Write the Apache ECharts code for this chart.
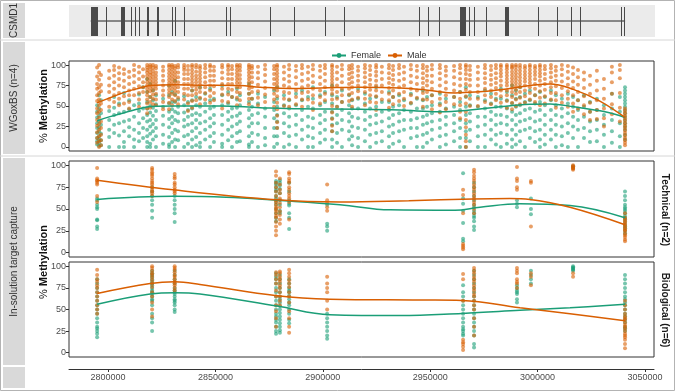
<!DOCTYPE html>
<html>
<head>
<meta charset="utf-8">
<script src="https://cdn.jsdelivr.net/npm/echarts@6/dist/echarts.min.js"></script>
<style>
  html, body { margin: 0; padding: 0; background: #fff; }
  #chart { width: 675px; height: 391px; }
</style>
</head>
<body>
<div id="chart"></div>
<script>
// genomic window and ticks
var X_MIN = 2781800, X_MAX = 3054200;
var xTicks = [2800000, 2850000, 2900000, 2950000, 3000000, 3050000];
var yTicks = [0, 25, 50, 75, 100];

// CSMD1 gene model: exons as [start, end]
var geneSpan = [2791900, 3040300];
var exons = [
  [2791900, 2795500], [2799100, 2799400], [2805900, 2807900], [2810700, 2811000],
  [2812600, 2812900], [2814300, 2814600], [2818000, 2819200], [2822600, 2823600],
  [2829800, 2830100], [2831100, 2831400], [2835400, 2835700], [2855000, 2855300],
  [2856700, 2857000], [2875400, 2875700], [2886300, 2886600], [2900600, 2900900],
  [2909600, 2909900], [2944300, 2944600], [2948700, 2949000], [2953800, 2954100],
  [2963500, 2966200], [2967900, 2968200], [2969900, 2970200], [2975500, 2975800],
  [2984300, 2986500], [2999700, 3000000], [3008500, 3008800], [3015100, 3015400],
  [3019400, 3019700], [3038300, 3038600], [3040000, 3040300]
];

// WGoxBS CpG positions and % methylation per position
var wgPos = [
  2794900, 2795800, 2796700, 2800500, 2802800, 2805100, 2807400, 2809800, 2812100, 2814400,
  2816300, 2818200, 2819600, 2820900, 2822300, 2825600, 2828400, 2829800, 2831200, 2832600,
  2835400, 2837200, 2839100, 2841000, 2842800, 2845200, 2847500, 2849300, 2853100, 2855900,
  2857700, 2860000, 2861400, 2865600, 2867000, 2869800, 2873100, 2877300, 2878700, 2881900,
  2884300, 2887500, 2890300, 2893100, 2895400, 2898700, 2901000, 2904300, 2906600, 2908900,
  2912200, 2913600, 2916400, 2919600, 2922000, 2924800, 2927500, 2930800, 2932700, 2935500,
  2937800, 2941000, 2943800, 2946600, 2948500, 2950800, 2954500, 2957300, 2961100, 2963900,
  2966600, 2968500, 2972200, 2975500, 2978300, 2980600, 2982900, 2985700, 2988100, 2989900,
  2991800, 2994100, 2996400, 2998800, 3001100, 3003400, 3006200, 3008500, 3011300, 3014100,
  3016500, 3018800, 3021600, 3024400, 3027600, 3030900, 3034600, 3038300, 3040700
];
var wgFemale = [
  [51, 43, 36, 29, 23, 17, 11, 7, 3], [63, 47, 38, 31, 24, 19, 13, 9, 5, 1], [57, 41, 27, 16, 8, 2],
  [44, 33, 21, 12, 0], [61, 48, 39, 27, 17], [53, 41, 29, 14, 0], [66, 43, 31, 19, 6, 0],
  [57, 46, 33, 24, 13], [51, 37, 21, 9, 0], [64, 53, 44, 29, 17, 7],
  [73, 47, 35, 23, 11], [83, 67, 55, 47, 39, 31, 21, 13, 6, 0], [77, 61, 50, 42, 33, 25, 16, 4, 0],
  [69, 57, 48, 38, 28, 19, 9], [63, 52, 44, 33, 23, 13, 0], [59, 49, 38, 27, 15, 4],
  [75, 63, 53, 43, 34, 24, 12, 3, 0], [67, 55, 46, 37, 29, 17, 6], [81, 64, 55, 43, 33, 21, 9, 0],
  [58, 49, 41, 31, 19, 8],
  [62, 51, 42, 33, 25, 13, 0], [55, 45, 37, 27, 15, 4], [69, 57, 47, 39, 29, 19, 9, 0],
  [61, 51, 41, 33, 23, 12, 2], [73, 59, 49, 39, 29, 17, 5, 0], [65, 53, 43, 31, 21, 9],
  [71, 57, 47, 35, 25, 13, 0], [59, 49, 39, 29, 17, 6], [75, 63, 51, 39, 27, 15, 4, 0],
  [67, 53, 43, 33, 21, 8],
  [61, 47, 37, 25, 13, 0], [71, 58, 48, 38, 28, 17, 6], [63, 51, 41, 31, 19, 7],
  [77, 65, 55, 45, 35, 25, 13, 3, 0], [59, 49, 39, 29, 17, 6], [65, 53, 41, 29, 15, 0],
  [61, 47, 37, 23, 11, 2], [69, 55, 45, 35, 23, 13, 0], [73, 59, 49, 39, 31, 23, 13, 4],
  [63, 51, 41, 29, 17, 0],
  [57, 47, 37, 25, 13, 3], [65, 51, 39, 27, 15, 0], [69, 57, 45, 33, 21, 9], [61, 49, 37, 25, 13, 0],
  [73, 59, 47, 35, 23, 11, 0], [63, 51, 39, 29, 17, 5], [67, 55, 43, 33, 21, 9],
  [75, 63, 53, 43, 35, 27, 19, 9, 0], [61, 49, 39, 29, 17, 5], [69, 55, 45, 33, 21, 0],
  [63, 51, 41, 31, 19, 9], [57, 47, 37, 25, 13, 2], [71, 59, 47, 35, 23, 11, 0],
  [65, 53, 43, 33, 21, 7], [59, 47, 37, 27, 15, 0], [73, 61, 49, 39, 29, 17, 5], [55, 43, 31, 19, 7],
  [67, 55, 45, 35, 25, 13, 0], [61, 49, 39, 27, 17, 4], [63, 51, 41, 31, 19, 7],
  [57, 45, 33, 21, 0], [65, 53, 43, 33, 23, 11], [59, 47, 35, 23, 13, 0],
  [69, 57, 47, 37, 27, 15, 0], [61, 49, 39, 29, 17, 5], [63, 51, 41, 31, 21, 9],
  [65, 53, 43, 33, 23, 13, 0], [59, 47, 37, 27, 15, 3], [61, 49, 39, 29, 19, 7],
  [67, 55, 45, 33, 23, 11, 0],
  [73, 61, 49, 39, 29, 19, 11, 0], [63, 51, 41, 31, 21, 7], [61, 49, 37, 25, 13, 0],
  [69, 57, 47, 37, 27, 15, 0], [65, 53, 43, 33, 21, 9], [59, 49, 39, 27, 15, 3],
  [71, 59, 49, 39, 29, 17, 0], [67, 57, 47, 37, 27, 15, 4], [75, 63, 53, 43, 33, 21, 9, 0],
  [69, 59, 49, 39, 27, 15, 3],
  [73, 61, 51, 41, 31, 19, 7], [65, 55, 45, 33, 21, 0], [69, 57, 47, 35, 23, 11],
  [63, 53, 43, 31, 19, 6], [67, 55, 45, 33, 21, 9, 0], [61, 51, 39, 27, 15, 3],
  [69, 57, 45, 33, 21, 9], [63, 51, 39, 27, 15, 0], [59, 47, 37, 25, 13, 2], [65, 53, 41, 29, 17, 0],
  [61, 49, 37, 25, 11], [57, 45, 33, 21, 0], [63, 49, 37, 23, 11], [55, 43, 31, 19, 6],
  [59, 45, 33, 21, 7], [51, 39, 27, 15, 0], [65, 47, 33, 19, 5], [61, 43, 29, 13, 0],
  [73, 69, 65, 61, 57, 53, 49, 45, 41, 37, 33, 29, 25, 21, 15, 9]
];
var wgMale = [
  [97, 86, 77, 71, 63, 56, 47, 41, 33, 26, 18, 11, 5], [100, 91, 82, 73, 66, 58, 51, 43, 36, 28, 21, 13, 7, 0],
  [88, 76, 68, 53, 45, 31, 23, 15, 8, 2], [93, 84, 75, 67, 58, 49], [99, 94, 87, 79, 71, 63, 55],
  [97, 90, 83, 75, 66, 59, 51], [95, 89, 81, 73, 62, 53], [92, 85, 77, 69, 63, 55, 47],
  [100, 94, 87, 79, 71, 63], [98, 91, 83, 74, 66, 58, 49],
  [95, 86, 79, 73, 67], [100, 97, 94, 91, 87, 83, 79, 75, 71, 67, 63, 58, 53, 47, 41],
  [100, 98, 95, 91, 88, 84, 80, 76, 72, 68, 61, 55, 48], [100, 97, 93, 89, 85, 81, 77, 73, 69, 64, 59, 52],
  [99, 96, 91, 87, 83, 79, 75, 71, 65, 58, 51], [98, 93, 87, 81, 75, 69, 63, 55, 46],
  [100, 98, 94, 90, 86, 82, 78, 74, 70, 66, 61, 54, 46], [100, 98, 95, 91, 87, 83, 79, 75, 71, 65, 58, 51],
  [99, 96, 92, 88, 84, 80, 76, 72, 68, 63, 56], [100, 97, 91, 85, 79, 73, 67, 60, 52],
  [100, 97, 94, 89, 83, 77, 71, 65, 58], [99, 94, 89, 83, 77, 71, 63, 53, 44],
  [100, 98, 94, 90, 86, 82, 78, 74, 69, 63, 56, 48], [100, 97, 92, 87, 83, 79, 74, 70, 65, 57],
  [99, 96, 92, 88, 84, 80, 76, 72, 67, 60, 52], [100, 96, 91, 85, 79, 73, 66, 58],
  [100, 98, 93, 87, 81, 75, 69, 62, 54], [98, 93, 87, 81, 74, 66, 57],
  [100, 97, 91, 84, 77, 71, 64, 56, 47], [100, 98, 94, 89, 83, 77, 71, 64, 55],
  [99, 95, 89, 83, 77, 70, 61], [100, 98, 94, 90, 86, 82, 78, 73, 67, 60, 51],
  [100, 97, 93, 88, 83, 78, 73, 66, 57], [100, 98, 95, 91, 87, 83, 79, 75, 71, 65, 59, 52],
  [99, 96, 91, 85, 79, 73, 67, 59], [98, 91, 84, 76, 68, 60, 51], [100, 95, 88, 80, 72, 64, 55],
  [99, 95, 89, 83, 77, 71, 65, 58, 49], [100, 98, 94, 90, 86, 82, 78, 74, 69, 62, 54, 46, 38, 30, 23],
  [98, 91, 83, 75, 67, 59, 50],
  [100, 95, 87, 80, 73, 66, 58, 49], [99, 93, 85, 77, 69, 61, 52], [100, 96, 89, 81, 73, 66, 58, 49],
  [98, 91, 83, 75, 67, 58], [100, 95, 87, 79, 71, 63, 54, 45], [99, 93, 85, 77, 69, 61, 53],
  [100, 96, 89, 81, 73, 65, 57], [100, 98, 94, 90, 86, 82, 78, 74, 70, 65, 58, 50, 42, 34, 26, 19],
  [98, 91, 83, 75, 67, 59, 49], [100, 95, 87, 79, 71, 63, 55],
  [99, 95, 89, 83, 77, 71, 64, 56], [100, 96, 91, 85, 79, 73, 66, 58, 49], [98, 93, 87, 81, 75, 68, 60],
  [100, 96, 91, 85, 79, 73, 67, 59, 51], [99, 94, 88, 82, 76, 70, 63, 55],
  [100, 97, 92, 87, 81, 75, 69, 62, 54, 45], [98, 91, 83, 75, 67, 58],
  [100, 96, 90, 84, 78, 72, 65, 57, 48], [99, 94, 88, 82, 76, 69, 61, 52], [100, 96, 89, 81, 73, 65, 56],
  [98, 91, 83, 75, 67, 59, 50], [100, 95, 87, 79, 71, 63, 54], [99, 93, 85, 77, 69, 60],
  [100, 96, 90, 84, 78, 72, 66, 58, 49], [98, 93, 87, 81, 75, 67, 58], [100, 95, 87, 79, 71, 63, 55, 46],
  [100, 96, 90, 83, 75, 67, 59, 51, 42], [98, 93, 87, 79, 71, 63, 55, 46], [99, 93, 85, 77, 69, 61, 52],
  [100, 96, 90, 83, 75, 67, 59, 51, 43, 35],
  [100, 98, 94, 89, 83, 77, 70, 62, 53, 43, 33, 24, 15, 7, 0], [99, 94, 88, 82, 75, 67, 59, 50],
  [98, 91, 83, 75, 67, 59, 50], [100, 96, 90, 84, 78, 71, 63, 55], [99, 94, 88, 82, 76, 69, 61, 52],
  [100, 96, 90, 84, 78, 72, 65, 57], [100, 98, 94, 90, 86, 81, 75, 69, 62, 54],
  [100, 98, 95, 91, 87, 83, 79, 75, 69, 63, 56, 48], [100, 98, 96, 92, 88, 84, 80, 76, 72, 67, 61, 54, 46],
  [100, 98, 94, 90, 86, 82, 78, 74, 70, 65, 58, 50],
  [100, 97, 93, 89, 85, 81, 77, 73, 67, 60, 52], [99, 96, 92, 88, 84, 80, 75, 69, 62, 54],
  [100, 98, 94, 90, 86, 82, 78, 73, 66, 58], [99, 96, 92, 88, 83, 77, 71, 63, 55],
  [100, 98, 94, 90, 86, 81, 75, 68, 60, 51], [99, 95, 89, 83, 77, 70, 62, 53],
  [100, 96, 91, 85, 79, 73, 66, 58], [98, 93, 87, 81, 74, 66, 57, 48], [100, 95, 88, 80, 72, 63, 54],
  [99, 92, 84, 76, 68, 59, 49],
  [97, 89, 80, 72, 63, 53, 43], [94, 85, 76, 67, 57, 47], [91, 82, 72, 62, 51, 40], [87, 76, 65, 54, 43, 33],
  [93, 81, 69, 57, 45, 34], [83, 71, 59, 47, 35, 25], [98, 91, 79, 65, 52, 40], [100, 94, 84, 66, 48, 31],
  [47, 44, 41, 38, 35, 32, 29, 26, 23, 20, 17, 14, 11, 8, 5, 2]
];
var wgFemaleFit = [
  [2794900, 32], [2800900, 37], [2807900, 42], [2814900, 47], [2819600, 49.5], [2831200, 50],
  [2852100, 50], [2870800, 48], [2889400, 46.5], [2917300, 46], [2935900, 45], [2954500, 43],
  [2968500, 45], [2982500, 49], [2996400, 52], [3005800, 52.5], [3016900, 49], [3031400, 43],
  [3040700, 36]
];
var wgMaleFit = [
  [2794900, 54], [2800900, 60], [2807900, 67], [2814900, 72], [2819600, 75], [2831200, 76],
  [2842800, 75.5], [2861400, 75], [2870800, 73], [2884700, 71.5], [2898700, 72], [2917300, 73],
  [2935900, 72], [2949900, 69], [2961500, 66], [2970800, 67], [2982500, 70], [2996400, 75],
  [3005800, 77], [3016900, 70], [3029000, 56], [3040700, 36]
];

// in-solution capture CpG positions
var capPos = [2794900, 2820500, 2831000, 2878200, 2880000, 2884300, 2902000,
  2965300, 2970400, 2990400, 2996900, 3016500, 3040700];
var techFemale = [
  [62, 60, 55, 52, 50, 38, 37, 30, 27], [75, 70, 65, 60, 55, 48, 40], [65, 60, 55, 50, 45, 35],
  [82, 80, 78, 75, 72, 70, 65, 62, 58, 55, 50, 45, 40, 36], [83, 80, 77, 73, 68, 60, 55, 48, 45],
  [80, 70, 60, 56, 54, 45, 40, 27], [55, 33, 30, 25],
  [91, 62, 56, 48, 34, 16, 13], [80, 75, 70, 65, 60, 55, 52, 48, 45, 42, 40, 36, 30, 26],
  [60, 56, 52], [62, 50, 44], [99, 97],
  [70, 65, 60, 55, 52, 50, 48, 45, 42, 40, 38, 35, 32, 30, 28, 25, 22]
];
var techMale = [
  [97, 85, 83, 82, 80, 78, 65, 58], [97, 95, 92, 90, 88, 85, 82, 80, 78, 75, 72, 70, 68, 65],
  [90, 87, 85, 80, 78, 75, 72, 70, 68],
  [93, 88, 80, 75, 70, 65, 60, 58, 55, 52, 50, 48, 45, 42, 40, 35, 30, 25, 20],
  [85, 78, 72, 68, 62, 57, 52, 47, 43, 38, 33], [92, 90, 85, 82, 80, 75, 72, 68, 65, 62, 58, 38],
  [78, 60, 57, 52, 48],
  [72, 66, 45, 10, 8, 6, 4], [95, 92, 88, 85, 82, 78, 75, 72, 68, 65, 62, 58, 55, 50, 45],
  [98, 85, 82, 75, 72], [82, 80, 30], [100, 99, 98, 97, 96, 95],
  [45, 40, 38, 36, 34, 32, 30, 28, 26, 25, 22, 20, 18, 15, 13]
];
var techFemaleFit = [
  [2794900, 61], [2830300, 64.5], [2855000, 63.5], [2878700, 60], [2908000, 55], [2931300, 49],
  [2961500, 48.5], [2973200, 52], [2991800, 56], [3015100, 54], [3040700, 40]
];
var techMaleFit = [
  [2794900, 83], [2830300, 72], [2878700, 60.5], [2908000, 58], [2940000, 59.5], [2969900, 61.5],
  [2987100, 62], [2996400, 61], [3015100, 52], [3040700, 32]
];
var bioFemale = [
  [85, 80, 75, 70, 65, 60, 55, 50, 45, 40, 35, 30, 28, 25, 22, 18],
  [95, 92, 90, 88, 85, 82, 80, 78, 75, 72, 70, 68, 65, 62, 60, 55, 45, 40, 35, 25],
  [95, 90, 85, 80, 75, 72, 70, 68, 65, 62, 60, 58, 55, 50, 47],
  [92, 88, 85, 80, 75, 70, 65, 60, 55, 50, 45, 42, 38, 35, 30, 25, 22],
  [90, 85, 80, 75, 70, 65, 62, 58, 54, 50, 46, 42, 38, 34, 30, 26, 23],
  [85, 80, 75, 72, 70, 66, 62, 58, 55, 50, 45, 38, 34],
  [45, 40, 35, 30, 25, 20, 16],
  [78, 70, 65, 60, 55, 50, 45, 40, 35, 30, 27, 25, 22, 20],
  [95, 90, 85, 80, 75, 70, 65, 60, 55, 50, 45, 40, 35, 30, 25, 20, 10, 6],
  [78, 75, 72, 70, 68, 62, 58], [95, 90, 85, 80], [100, 99, 98, 97, 96, 95],
  [90, 85, 80, 75, 70, 65, 62, 58, 55, 50, 45, 42, 38, 35, 30, 28, 25]
];
var bioMale = [
  [96, 90, 85, 82, 78, 75, 70, 65, 60, 55, 50, 45],
  [100, 98, 95, 92, 90, 87, 84, 80, 76, 70, 65, 58, 50, 42],
  [100, 98, 96, 93, 90, 88, 85, 82, 80, 78, 75, 72],
  [93, 90, 85, 80, 72, 65, 55, 48, 40, 30],
  [94, 92, 88, 85, 82, 78, 75, 70, 65, 60, 55],
  [96, 92, 88, 84, 80, 76, 70, 65, 58, 48, 40, 30, 23],
  [88, 80, 75, 70, 60, 50],
  [91, 85, 60, 15, 12, 10, 7, 3],
  [98, 95, 92, 88, 85, 82, 78, 75, 72, 68, 65, 60, 55, 50, 40, 30, 20],
  [98, 95, 92, 85, 82, 80, 75], [92, 88, 78], [92, 88],
  [60, 55, 50, 45, 42, 40, 38, 35, 32, 30, 28, 25, 22, 20, 18, 15, 10, 5]
];
var bioFemaleFit = [
  [2794900, 56], [2819600, 68], [2831200, 69.5], [2842800, 68], [2878700, 54], [2903300, 44],
  [2935900, 43], [2964800, 45.5], [2991800, 49], [3015100, 52], [3040700, 56]
];
var bioMaleFit = [
  [2794900, 68.5], [2819600, 80], [2831200, 82], [2842800, 79], [2878700, 66], [2903300, 62],
  [2945200, 61], [2964800, 60.5], [2991800, 52], [3015100, 45], [3040700, 37]
];

var FEMALE = '#1b9e77', MALE = '#d95f02';
var FONT = '"Liberation Sans", Arial, sans-serif';

function flatten(pos, cols) {
  var out = [];
  for (var i = 0; i < pos.length; i++) {
    (cols[i] || []).forEach(function (v) { out.push([pos[i], v]); });
  }
  return out;
}

function xAx(gi, labels) {
  return {
    type: 'value', gridIndex: gi, min: X_MIN, max: X_MAX,
    splitLine: {show: false},
    axisLine: {show: labels, onZero: false, lineStyle: {color: '#333', width: 1}},
    offset: labels ? 12 : 0,
    axisTick: {show: labels, customValues: xTicks, length: 3, lineStyle: {color: '#333'}},
    axisLabel: {
      show: labels, customValues: xTicks, fontSize: 9, color: '#4d4d4d', fontFamily: FONT, margin: 4,
      formatter: function (v) { return String(v); }
    }
  };
}

function yAx(gi) {
  return {
    type: 'value', gridIndex: gi, min: -5, max: 105,
    splitLine: {show: false},
    axisLine: {show: false},
    axisTick: {show: true, customValues: yTicks, length: 3, lineStyle: {color: '#333'}},
    axisLabel: {customValues: yTicks, fontSize: 9, color: '#4d4d4d', fontFamily: FONT, margin: 3}
  };
}

function pts(name, gi, data, color, size) {
  return {
    name: name, type: 'scatter', xAxisIndex: gi, yAxisIndex: gi, data: data,
    symbolSize: size, itemStyle: {color: color, opacity: 0.6}, silent: true, z: 2
  };
}

function fit(name, gi, data, color) {
  return {
    name: name, type: 'line', xAxisIndex: gi, yAxisIndex: gi, data: data,
    smooth: 0.4, symbol: 'circle', symbolSize: 4, showSymbol: false,
    lineStyle: {color: color, width: 1.5}, itemStyle: {color: color}, z: 5, silent: true
  };
}

var chart = echarts.init(document.getElementById('chart'), null, {renderer: 'canvas'});

var series = [
  // smooth fits first so the legend takes the line icon
  fit('Female', 1, wgFemaleFit, FEMALE),
  fit('Male', 1, wgMaleFit, MALE),
  fit('Female', 2, techFemaleFit, FEMALE),
  fit('Male', 2, techMaleFit, MALE),
  fit('Female', 3, bioFemaleFit, FEMALE),
  fit('Male', 3, bioMaleFit, MALE),
  // gene model
  {
    name: 'gene', type: 'line', xAxisIndex: 0, yAxisIndex: 0,
    data: [[geneSpan[0], 0.5], [geneSpan[1], 0.5]], symbol: 'none',
    lineStyle: {color: '#222', width: 1}, z: 2, silent: true
  },
  {
    name: 'exons', type: 'custom', xAxisIndex: 0, yAxisIndex: 0, data: exons,
    encode: {x: [0, 1]}, silent: true, z: 3,
    renderItem: function (params, api) {
      var a = api.coord([api.value(0), 0.95]);
      var b = api.coord([api.value(1), 0.05]);
      var x0 = Math.round(a[0]), x1 = Math.round(b[0]);
      return {
        type: 'rect',
        shape: {x: x0, y: Math.round(a[1]), width: Math.max(x1 - x0, 1), height: Math.round(b[1] - a[1])},
        style: {fill: '#4a4a4a'}
      };
    }
  },
  pts('Female', 1, flatten(wgPos, wgFemale), FEMALE, 4),
  pts('Male', 1, flatten(wgPos, wgMale), MALE, 4),
  pts('Female', 2, flatten(capPos, techFemale), FEMALE, 4),
  pts('Male', 2, flatten(capPos, techMale), MALE, 4),
  pts('Female', 3, flatten(capPos, bioFemale), FEMALE, 4),
  pts('Male', 3, flatten(capPos, bioMale), MALE, 4)
];

function strip(y, h, text) {
  return [
    {type: 'rect', shape: {x: 3, y: y, width: 22, height: h}, style: {fill: '#d9d9d9'}, silent: true},
    {
      type: 'text', x: 14, y: y + h / 2, rotation: Math.PI / 2, silent: true,
      style: {text: text, align: 'center', verticalAlign: 'middle', fill: '#333', font: '10px ' + FONT}
    }
  ];
}

var graphics = [
  {type: 'rect', shape: {x: 0.5, y: 0.5, width: 674, height: 390}, style: {fill: 'none', stroke: '#b3b3b3', lineWidth: 1}, silent: true},
  {type: 'line', shape: {x1: 0, y1: 40, x2: 675, y2: 40}, style: {stroke: '#d6d6d6', lineWidth: 1}, silent: true},
  {type: 'line', shape: {x1: 0, y1: 156, x2: 675, y2: 156}, style: {stroke: '#d6d6d6', lineWidth: 1}, silent: true}
]
  .concat(strip(3, 35, 'CSMD1'))
  .concat(strip(42, 112, 'WGoxBS (n=4)'))
  .concat(strip(158, 207, 'In-solution target capture'))
  .concat([{type: 'rect', shape: {x: 3, y: 367, width: 22, height: 21}, style: {fill: '#d9d9d9'}, silent: true}])
  .concat([
    {
      type: 'text', x: 44, y: 106, rotation: Math.PI / 2, silent: true,
      style: {text: '% {b|Methylation}', align: 'center', verticalAlign: 'middle', fill: '#111', font: '11px ' + FONT,
        rich: {b: {fontWeight: 'bold', fontSize: 11, fontFamily: FONT, fill: '#111'}}}
    },
    {
      type: 'text', x: 44, y: 262, rotation: Math.PI / 2, silent: true,
      style: {text: '% {b|Methylation}', align: 'center', verticalAlign: 'middle', fill: '#111', font: '11px ' + FONT,
        rich: {b: {fontWeight: 'bold', fontSize: 11, fontFamily: FONT, fill: '#111'}}}
    },
    {
      type: 'text', x: 665, y: 210, rotation: -Math.PI / 2, silent: true,
      style: {text: 'Technical (n=2)', align: 'center', verticalAlign: 'middle', fill: '#1a1a1a', font: 'bold 10px ' + FONT}
    },
    {
      type: 'text', x: 665, y: 310, rotation: -Math.PI / 2, silent: true,
      style: {text: 'Biological (n=6)', align: 'center', verticalAlign: 'middle', fill: '#1a1a1a', font: 'bold 10px ' + FONT}
    }
  ]);

chart.setOption({
  animation: false,
  backgroundColor: '#ffffff',
  legend: {
    data: ['Female', 'Male'], left: 326, top: 46, itemWidth: 14, itemHeight: 6, itemGap: 6,
    textStyle: {fontSize: 9, color: '#333', fontFamily: FONT}, selectedMode: false
  },
  grid: [
    {left: 69, top: 5, width: 586, height: 32, show: true, backgroundColor: '#ebebeb', borderWidth: 0},
    {left: 69, top: 61, width: 585, height: 90, show: true, borderColor: '#333', borderWidth: 1},
    {left: 69, top: 161, width: 585, height: 96, show: true, borderColor: '#333', borderWidth: 1},
    {left: 69, top: 262, width: 585, height: 95, show: true, borderColor: '#333', borderWidth: 1}
  ],
  xAxis: [xAx(0, false), xAx(1, false), xAx(2, false), xAx(3, true)],
  yAxis: [
    {type: 'value', gridIndex: 0, min: 0, max: 1, show: false},
    yAx(1), yAx(2), yAx(3)
  ],
  series: series,
  graphic: graphics
});
</script>
</body>
</html>
